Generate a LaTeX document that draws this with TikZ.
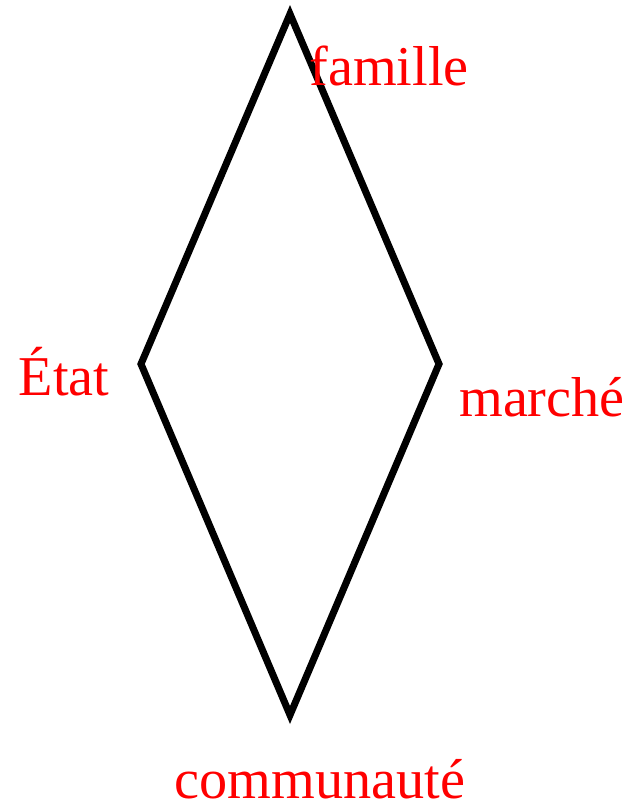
\documentclass[tikz,border=0pt]{standalone}
\usepackage{fontspec}
\setmainfont{Liberation Serif}
\usepackage{xcolor}
\usetikzlibrary{positioning,calc}

\begin{document}
\begin{tikzpicture}[
    x=0.02cm, y=0.02cm,
    edge/.style={draw=black, line width=4pt, line join=miter},
    label/.style={text=red, inner sep=0pt, font=\fontsize{32}{36}\selectfont}
]

% Frame
\useasboundingbox (0,0) rectangle (633,-812);

% Corners
\coordinate (famille) at (290,-14);
\coordinate (marche) at (439,-364);
\coordinate (commun) at (290,-715);
\coordinate (etat) at (141,-364);

% Diamond
\draw[edge] (famille) -- (marche) -- (commun) -- (etat) -- cycle;

% Labels
\node[label] (lfamille) at (389,-66) {famille};
\node[label] (lmarche) at (542,-397) {marché};
\node[label] (lcommun) at (320,-779) {communauté};
\node[label] (letat) at (64,-372) {État};

\end{tikzpicture}
\end{document}
